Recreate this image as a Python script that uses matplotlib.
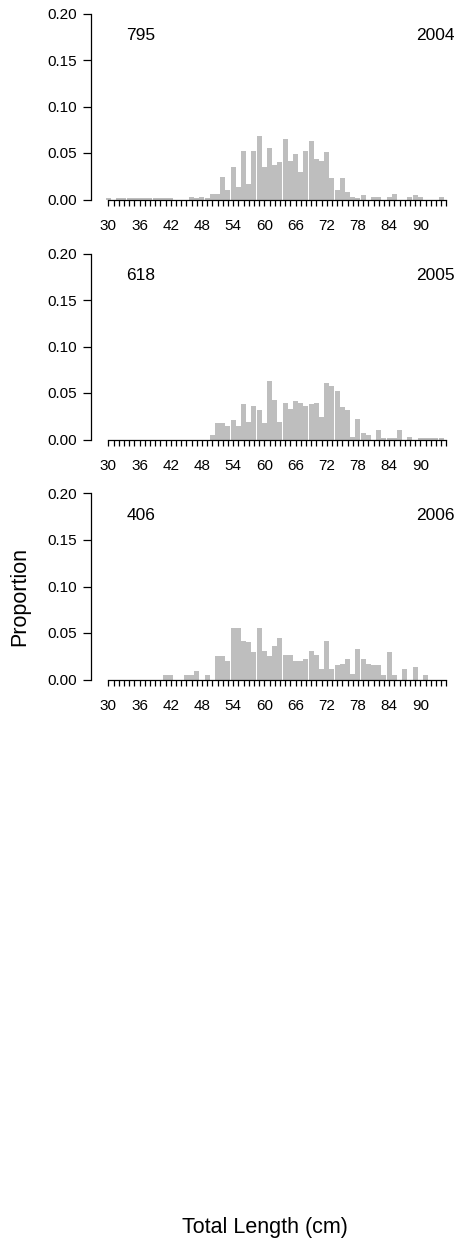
import numpy as np
import matplotlib
matplotlib.use("Agg")
import matplotlib.pyplot as plt

plt.rcParams['font.family'] = ['Liberation Sans', 'DejaVu Sans']

lengths = list(range(30, 96))
years = ["2004", "2005", "2006"]
sample_sizes = ["795", "618", "406"]

# proportions by total length bin (30..95 cm)
prop_2004 = [0.0013, 0, 0.0013, 0.0013, 0.0013, 0.0013, 0.0013, 0.0013, 0.0013, 0.0013,   # 30-39
             0.0013, 0.0013, 0.0013, 0, 0, 0, 0.0025, 0.0013, 0.0025, 0.0013,               # 40-49
             0.0058, 0.0058, 0.024, 0.010, 0.035, 0.013, 0.052, 0.0166, 0.052, 0.068,         # 50-59
             0.035, 0.055, 0.037, 0.040, 0.065, 0.041, 0.049, 0.030, 0.052, 0.063,            # 60-69
             0.044, 0.041, 0.051, 0.023, 0.010, 0.023, 0.008, 0.0025, 0.0013, 0.0047,         # 70-79
             0, 0.0025, 0.0025, 0, 0.0025, 0.0058, 0, 0, 0.0025, 0.0047,                      # 80-89
             0.0025, 0, 0, 0, 0.0025, 0]                                                      # 90-95

prop_2005 = [0, 0, 0, 0, 0, 0, 0, 0, 0, 0,                                                    # 30-39
             0, 0, 0, 0, 0, 0, 0, 0, 0, 0,                                                    # 40-49
             0.0047, 0.0177, 0.0177, 0.0144, 0.021, 0.0144, 0.038, 0.0187, 0.036, 0.032,      # 50-59
             0.0177, 0.063, 0.0425, 0.0187, 0.039, 0.033, 0.041, 0.039, 0.036, 0.038,         # 60-69
             0.039, 0.024, 0.061, 0.057, 0.052, 0.035, 0.032, 0.0032, 0.022, 0.0068,          # 70-79
             0.0047, 0, 0.010, 0.0016, 0.0016, 0.0016, 0.010, 0, 0.0025, 0,                  # 80-89
             0.0016, 0.0016, 0.0016, 0.0016, 0.0016, 0]                                       # 90-95

prop_2006 = [0, 0, 0, 0, 0, 0, 0, 0, 0, 0,                                                    # 30-39
             0, 0.0047, 0.0047, 0, 0, 0.0047, 0.0047, 0.009, 0, 0.0047,                       # 40-49
             0, 0.0252, 0.0252, 0.0198, 0.0555, 0.0555, 0.0414, 0.0404, 0.0295, 0.0555,       # 50-59
             0.0306, 0.0252, 0.036, 0.0447, 0.0263, 0.0263, 0.0198, 0.0198, 0.022, 0.0306,    # 60-69
             0.0263, 0.0112, 0.0414, 0.0112, 0.0155, 0.0166, 0.022, 0.0058, 0.0328, 0.022,    # 70-79
             0.0166, 0.0155, 0.0155, 0.0047, 0.0295, 0.0047, 0, 0.0112, 0, 0.0133,            # 80-89
             0, 0.0047, 0, 0, 0, 0]                                                           # 90-95

props = [prop_2004, prop_2005, prop_2006]

W, H = 458, 1245
fig = plt.figure(figsize=(W / 100, H / 100), dpi=100)

px_per_cm = 5.2
x30_px = 108.3
ax_left_px = 90.5
xmin = 30 - (x30_px - ax_left_px) / px_per_cm
xmax = 30 + (W - x30_px) / px_per_cm

panel_tops = [13.5, 253.5, 493.5]
panel_h = 186.0

xtick_labels = [str(v) if (v - 30) % 6 == 0 and v <= 90 else "" for v in lengths]

for i, (yr, n, p) in enumerate(zip(years, sample_sizes, props)):
    top = panel_tops[i]
    bottom = top + panel_h
    ax = fig.add_axes([ax_left_px / W, 1 - bottom / H, (W - ax_left_px) / W, panel_h / H])
    ax.bar(lengths, p, width=0.93, color="#BEBEBE", edgecolor="none", align="center")
    ax.set_xlim(xmin, xmax)
    ax.set_ylim(0, 0.2)
    for s in ("top", "right"):
        ax.spines[s].set_visible(False)
    ax.spines["left"].set_bounds(0, 0.2)
    ax.spines["bottom"].set_bounds(30, 95)
    ax.spines["left"].set_linewidth(0.9)
    ax.spines["bottom"].set_linewidth(0.9)
    ax.set_yticks([0, 0.05, 0.10, 0.15, 0.20])
    ax.set_yticklabels(["0.00", "0.05", "0.10", "0.15", "0.20"])
    ax.set_xticks(lengths)
    ax.set_xticklabels(xtick_labels)
    ax.tick_params(axis="x", direction="out", length=4.2, width=0.9, pad=10, labelsize=11)
    ax.tick_params(axis="y", direction="out", length=5.8, width=0.9, pad=4, labelsize=11)
    ax.patch.set_alpha(0)
    ax.text(36.3, 0.176, n, ha="center", va="center", fontsize=12.5, clip_on=False)
    ax.text(96.6, 0.176, yr, ha="right", va="center", fontsize=12.5, clip_on=False)

fig.text(20 / W, 1 - 596 / H, "Proportion", rotation=90, ha="center", va="center", fontsize=15.5)
fig.text(264.5 / W, 1 - 1227 / H, "Total Length (cm)", ha="center", va="center", fontsize=15.5)

fig.savefig("out.png", dpi=100)
